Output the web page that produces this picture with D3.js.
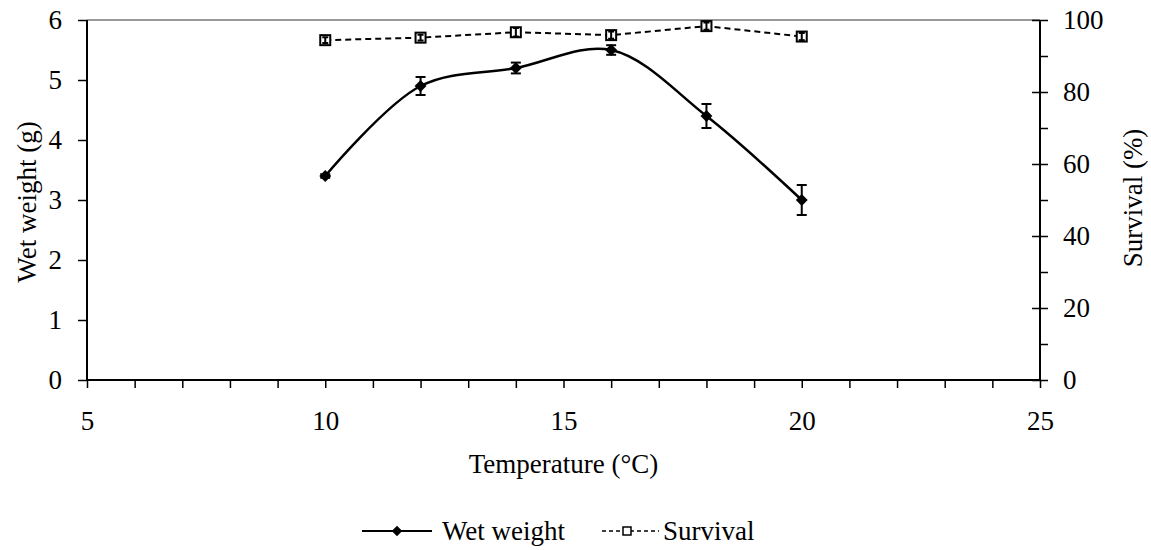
<!DOCTYPE html>
<html>
<head>
<meta charset="utf-8">
<script src="https://cdn.jsdelivr.net/npm/d3@7"></script>
<style>
  body { margin: 0; background: #fff; }
</style>
</head>
<body>
<div id="chart"></div>
<script>
// data
var temps = [10, 12, 14, 16, 18, 20];
var wetWeight = [3.4, 4.9, 5.2, 5.5, 4.4, 3.0];
var wetWeightErr = [0.03, 0.15, 0.09, 0.08, 0.2, 0.25];
var survival = [94.4, 95.1, 96.6, 95.8, 98.3, 95.4];
var survivalErr = [0.8, 0.8, 1.2, 1.0, 1.0, 1.0];
var xTicks = [5, 10, 15, 20, 25];
var yLeftTicks = [0, 1, 2, 3, 4, 5, 6];
var yRightTicks = [0, 20, 40, 60, 80, 100];

var W = 1151, H = 550;
var margin = {top: 20, right: 111, bottom: 170, left: 87};
var fs = 27;
var serif = "'Liberation Serif', 'Times New Roman', serif";

var svg = d3.select("#chart").append("svg")
    .attr("width", W).attr("height", H);

var x = d3.scaleLinear().domain([5, 25]).range([margin.left, W - margin.right]);
var yL = d3.scaleLinear().domain([0, 6]).range([H - margin.bottom, margin.top]);
var yR = d3.scaleLinear().domain([0, 100]).range([H - margin.bottom, margin.top]);

function styleText(sel) {
    sel.style("font-family", serif).style("font-size", fs + "px").style("fill", "#000");
}

// top border (grey)
svg.append("line")
    .attr("x1", x(5)).attr("x2", x(25))
    .attr("y1", yL(6)).attr("y2", yL(6))
    .attr("stroke", "#999").attr("stroke-width", 2);

// x axis: major + minor ticks
var xAxis = svg.append("g")
    .attr("transform", "translate(0," + yL(0) + ")")
    .call(d3.axisBottom(x).tickValues(d3.range(5, 26, 1)).tickSize(8)
        .tickFormat(function(d) { return xTicks.indexOf(d) >= 0 ? d : ""; }).tickPadding(23));
xAxis.select(".domain").attr("stroke", "#000").attr("stroke-width", 2)
    .attr("d", "M" + x(5) + ",0H" + x(25));
xAxis.selectAll(".tick line").attr("stroke-width", 1.5);
xAxis.selectAll("text").call(styleText);

// left axis
var yAxisL = svg.append("g")
    .attr("transform", "translate(" + x(5) + ",0)")
    .call(d3.axisLeft(yL).tickValues(yLeftTicks).tickSize(9).tickPadding(16)
        .tickFormat(d3.format("d")));
yAxisL.select(".domain").attr("stroke", "#000").attr("stroke-width", 2)
    .attr("d", "M0," + yL(0) + "V" + yL(6));
yAxisL.selectAll(".tick line").attr("stroke-width", 1.5);
yAxisL.selectAll("text").call(styleText);

// right axis
var yAxisR = svg.append("g")
    .attr("transform", "translate(" + x(25) + ",0)")
    .call(d3.axisRight(yR).tickValues(d3.range(0, 101, 10)).tickSize(8).tickPadding(15)
        .tickFormat(function(d) { return yRightTicks.indexOf(d) >= 0 ? d : ""; }));
yAxisR.select(".domain").attr("stroke", "#000").attr("stroke-width", 2)
    .attr("d", "M0," + yR(0) + "V" + yR(100));
yAxisR.selectAll(".tick line").attr("stroke-width", 1.5)
    .attr("x1", function(d) { return yRightTicks.indexOf(d) >= 0 ? -8 : 0; });
yAxisR.selectAll("text").call(styleText);

// axis titles
svg.append("text")
    .attr("x", (x(5) + x(25)) / 2).attr("y", 473)
    .attr("text-anchor", "middle").call(styleText)
    .text("Temperature (°C)");
svg.append("text")
    .attr("transform", "translate(36," + (yL(3) + 2) + ") rotate(-90)")
    .attr("text-anchor", "middle").call(styleText)
    .text("Wet weight (g)");
svg.append("text")
    .attr("transform", "translate(1142," + (yL(3) - 2) + ") rotate(-90)")
    .attr("text-anchor", "middle").call(styleText)
    .text("Survival (%)");

// survival series (dashed, open squares)
var survLine = d3.line()
    .x(function(d, i) { return x(temps[i]); })
    .y(function(d) { return yR(d); });
svg.append("path")
    .datum(survival)
    .attr("d", survLine)
    .attr("fill", "none").attr("stroke", "#000")
    .attr("stroke-width", 2).attr("stroke-dasharray", "6,4");

// wet weight series (smoothed)
var wwLine = d3.line()
    .x(function(d, i) { return x(temps[i]); })
    .y(function(d) { return yL(d); })
    .curve(d3.curveCatmullRom.alpha(0.5));
svg.append("path")
    .datum(wetWeight)
    .attr("d", wwLine)
    .attr("fill", "none").attr("stroke", "#000").attr("stroke-width", 2.5);

// error bars
function errorBars(vals, errs, yScale, cap) {
    var g = svg.append("g").attr("stroke", "#000").attr("stroke-width", 2);
    vals.forEach(function(v, i) {
        var cx = x(temps[i]);
        var y1 = yScale(v + errs[i]), y2 = yScale(v - errs[i]);
        g.append("line").attr("x1", cx).attr("x2", cx).attr("y1", y1).attr("y2", y2);
        g.append("line").attr("x1", cx - cap).attr("x2", cx + cap).attr("y1", y1).attr("y2", y1);
        g.append("line").attr("x1", cx - cap).attr("x2", cx + cap).attr("y1", y2).attr("y2", y2);
    });
}

svg.selectAll(".sq")
    .data(survival)
    .enter().append("rect")
    .attr("class", "sq")
    .attr("x", function(d, i) { return x(temps[i]) - 5; })
    .attr("y", function(d) { return yR(d) - 5; })
    .attr("width", 10).attr("height", 10)
    .attr("fill", "#fff").attr("stroke", "#000").attr("stroke-width", 2);
errorBars(survival, survivalErr, yR, 3);

errorBars(wetWeight, wetWeightErr, yL, 5);
var diamond = d3.symbol().type(d3.symbolDiamond2).size(90);
svg.selectAll(".dm")
    .data(wetWeight)
    .enter().append("path")
    .attr("class", "dm")
    .attr("d", diamond)
    .attr("transform", function(d, i) { return "translate(" + x(temps[i]) + "," + yL(d) + ")"; })
    .attr("fill", "#000");

// legend
var lg = svg.append("g");
lg.append("line").attr("x1", 362).attr("x2", 432).attr("y1", 531).attr("y2", 531)
    .attr("stroke", "#000").attr("stroke-width", 2);
lg.append("path").attr("d", d3.symbol().type(d3.symbolDiamond2).size(70))
    .attr("transform", "translate(397,531)").attr("fill", "#000");
lg.append("text").attr("x", 442).attr("y", 540).call(styleText).text("Wet weight");

lg.append("line").attr("x1", 602).attr("x2", 659).attr("y1", 531).attr("y2", 531)
    .attr("stroke", "#000").attr("stroke-width", 1.5).attr("stroke-dasharray", "4,3");
lg.append("rect").attr("x", 623).attr("y", 527).attr("width", 8).attr("height", 8)
    .attr("fill", "#fff").attr("stroke", "#000").attr("stroke-width", 1.5);
lg.append("text").attr("x", 663).attr("y", 540).call(styleText).text("Survival");
</script>
</body>
</html>
